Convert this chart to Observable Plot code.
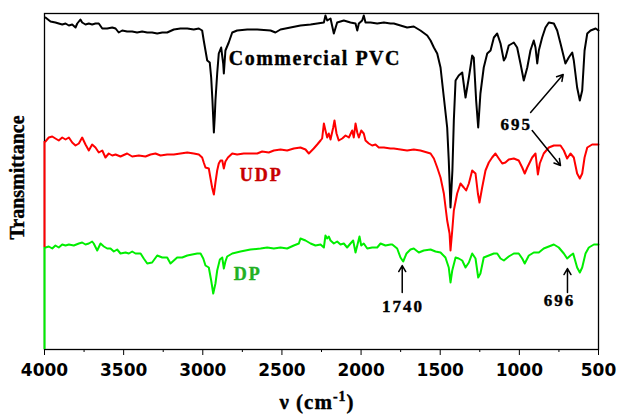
<!DOCTYPE html>
<html><head><meta charset="utf-8">
<script src="https://cdn.jsdelivr.net/npm/d3@7"></script>
<script src="https://cdn.jsdelivr.net/npm/@observablehq/plot@0.6"></script>
<style>
body{margin:0;background:#fff;}
#chart svg{display:block;}
</style></head><body><div id="chart"></div>
<script>
// x-axis ticks (wavenumber, cm^-1)
const xTicks = [4000, 3500, 3000, 2500, 2000, 1500, 1000, 500];
const xMinorTicks = [3750, 3250, 2750, 2250, 1750, 1250, 750];

// Commercial PVC spectrum: [wavenumber, transmittance (offset, a.u.)]
const pvc = [[3994,332],[3962,328],[3931,327],[3910,326],[3888,325],[3867,326],[3846,324],[3825,325],[3804,322],[3793,326],[3773,330],[3762,327],[3741,325],[3720,326],[3699,325],[3678,326],[3657,326],[3635,321],[3604,321],[3572,322],[3551,321],[3531,317],[3509,319],[3478,318],[3446,318],[3415,317],[3383,318],[3351,317],[3320,317],[3288,316],[3256,317],[3225,317],[3183,320],[3141,321],[3098,321],[3057,320],[3025,321],[3004,319],[2994,309],[2983,299],[2972,289],[2956,287],[2947,272],[2939,249],[2930,217],[2924,234],[2920,249],[2909,276],[2899,296],[2884,302],[2871,286],[2867,276],[2857,299],[2836,307],[2814,317],[2783,319],[2719,320],[2656,320],[2572,319],[2541,317],[2509,320],[2446,322],[2383,324],[2319,325],[2277,326],[2235,327],[2225,334],[2214,329],[2193,331],[2172,316],[2151,327],[2109,329],[2067,327],[2035,326],[2024,319],[2014,326],[1993,329],[1983,334],[1972,327],[1940,327],[1898,326],[1856,327],[1814,326],[1793,326],[1751,324],[1709,322],[1667,323],[1625,319],[1582,314],[1561,309],[1540,302],[1519,296],[1498,282],[1477,252],[1456,222],[1446,189],[1435,142],[1423,179],[1414,229],[1403,269],[1383,274],[1361,277],[1340,252],[1319,272],[1298,294],[1288,292],[1273,249],[1260,222],[1246,256],[1225,282],[1203,296],[1182,299],[1161,312],[1140,316],[1119,306],[1098,289],[1087,292],[1067,304],[1035,307],[1014,302],[993,286],[972,269],[950,282],[930,299],[909,309],[898,302],[887,286],[877,299],[856,312],[835,322],[814,327],[782,326],[761,319],[740,306],[709,286],[688,292],[666,297],[656,289],[635,262],[618,249],[603,259],[588,299],[571,316],[550,319],[518,321],[500,319]];

// UDP spectrum
const udp = [[3994,208],[3973,212],[3951,213],[3931,211],[3910,209],[3888,212],[3867,210],[3846,212],[3825,207],[3804,204],[3783,206],[3762,212],[3741,205],[3720,199],[3699,205],[3678,202],[3657,197],[3635,199],[3615,192],[3594,196],[3572,194],[3551,195],[3520,193],[3478,196],[3446,193],[3404,194],[3362,193],[3330,195],[3299,196],[3267,194],[3225,195],[3183,195],[3141,196],[3098,197],[3057,196],[3025,195],[3004,192],[2994,187],[2983,182],[2962,181],[2951,171],[2941,162],[2930,155],[2920,167],[2909,179],[2899,186],[2888,189],[2877,189],[2867,181],[2857,188],[2841,192],[2814,196],[2783,195],[2741,196],[2699,196],[2656,196],[2625,198],[2583,197],[2551,199],[2509,200],[2467,199],[2425,201],[2383,202],[2351,200],[2330,196],[2299,201],[2277,205],[2256,209],[2246,211],[2235,226],[2225,219],[2214,212],[2204,216],[2193,210],[2176,222],[2168,229],[2155,216],[2141,209],[2119,211],[2098,214],[2077,212],[2056,219],[2046,212],[2035,226],[2024,217],[2014,212],[1999,219],[1983,216],[1972,209],[1951,206],[1930,204],[1909,205],[1888,202],[1856,202],[1814,201],[1793,201],[1751,200],[1709,199],[1667,200],[1625,199],[1582,197],[1561,196],[1540,191],[1519,182],[1498,172],[1477,156],[1456,129],[1441,116],[1435,99],[1424,119],[1414,139],[1393,156],[1372,166],[1351,162],[1336,159],[1319,166],[1298,179],[1277,176],[1262,156],[1252,147],[1235,162],[1214,179],[1193,187],[1172,192],[1151,196],[1130,191],[1108,186],[1088,187],[1067,190],[1035,191],[1004,189],[982,182],[966,176],[950,182],[919,192],[898,196],[883,175],[871,186],[846,196],[814,202],[782,204],[740,204],[719,199],[698,191],[677,196],[656,192],[635,176],[618,171],[603,176],[588,192],[571,202],[540,205],[500,205]];

// DP spectrum
const dp = [[3994,102],[3973,103],[3951,101],[3931,104],[3910,102],[3888,105],[3867,104],[3846,105],[3815,104],[3783,106],[3762,107],[3741,105],[3720,106],[3699,108],[3689,106],[3667,99],[3646,106],[3625,103],[3604,101],[3583,101],[3562,98],[3541,100],[3520,96],[3488,97],[3467,96],[3446,98],[3425,96],[3393,96],[3373,91],[3351,86],[3320,87],[3288,94],[3256,92],[3225,92],[3204,86],[3183,89],[3162,92],[3130,92],[3098,94],[3067,95],[3035,96],[3014,96],[2997,91],[2983,84],[2962,82],[2947,69],[2934,56],[2920,66],[2909,79],[2892,90],[2877,92],[2867,81],[2857,88],[2846,93],[2814,96],[2762,98],[2699,100],[2635,101],[2593,102],[2551,101],[2509,102],[2467,101],[2425,104],[2393,106],[2383,111],[2351,109],[2319,106],[2288,104],[2256,105],[2235,102],[2225,114],[2214,111],[2204,113],[2193,109],[2172,106],[2151,108],[2130,105],[2109,106],[2088,102],[2067,106],[2050,109],[2035,97],[2024,104],[2010,113],[1999,104],[1983,106],[1961,101],[1930,102],[1898,102],[1877,106],[1846,104],[1814,105],[1803,105],[1772,101],[1751,92],[1734,88],[1713,96],[1688,100],[1667,101],[1635,97],[1604,99],[1561,100],[1530,98],[1498,97],[1467,92],[1446,82],[1435,67],[1424,79],[1403,92],[1383,91],[1361,89],[1340,82],[1319,87],[1298,96],[1277,91],[1260,72],[1246,76],[1225,92],[1193,94],[1161,96],[1140,96],[1119,91],[1098,89],[1067,93],[1035,96],[1004,96],[982,91],[966,86],[940,94],[909,97],[877,97],[846,101],[814,103],[782,105],[751,102],[719,96],[698,91],[677,94],[660,96],[635,82],[618,77],[603,82],[582,96],[561,102],[529,105],[500,105]];

// Curve labels
const seriesNames = ["Commercial PVC", "UDP", "DP"];
const seriesColors = ["#000000", "#ff0000", "#00ee00"];
const seriesTextColors = ["#000000", "#c80000", "#22b022"];
const labelWavenumbers = [2836, 2766, 2804];
const labelT = [290.7, 173.8, 74.8];

// Peak annotations
const peakTexts = ["695", "1740", "696"];
const peakTextV = [1119, 1867, 846];
const peakTextT = [224.8, 43.2, 48.5];
const arrowV1 = [929, 919, 1740, 696];
const arrowT1 = [237, 219, 57, 57];
const arrowV2 = [723, 740, 1740, 696];
const arrowT2 = [275, 184, 84, 81];

const rows = a => a.map(([v, t]) => ({v, t}));
const series = [pvc, udp, dp].map(rows);

const labelRows = seriesNames.map((text, i) => ({text, v: labelWavenumbers[i], t: labelT[i], color: seriesTextColors[i]}));
const peakRows = peakTexts.map((text, i) => ({text, v: peakTextV[i], t: peakTextT[i]}));
const arrowRows = arrowV1.map((v1, i) => ({v1, t1: arrowT1[i], v2: arrowV2[i], t2: arrowT2[i]}));
const edgeRows = [
  {v: 4000, t1: udp[0][1], t2: dp[0][1], c: seriesColors[1]},
  {v: 4000, t1: dp[0][1], t2: 0, c: seriesColors[2]}
];

const chart = Plot.plot({
  width: 619, height: 414,
  marginTop: 13, marginBottom: 65, marginLeft: 44, marginRight: 21,
  style: {background: "#fff", color: "#000"},
  x: {domain: [4000, 500]},
  y: {domain: [0, 336], axis: null},
  marks: [
    Plot.line(series[2], {x: "v", y: "t", stroke: seriesColors[2], strokeWidth: 2, strokeLinejoin: "round"}),
    Plot.line(series[1], {x: "v", y: "t", stroke: seriesColors[1], strokeWidth: 2, strokeLinejoin: "round"}),
    Plot.line(series[0], {x: "v", y: "t", stroke: seriesColors[0], strokeWidth: 2, strokeLinejoin: "round"}),
    Plot.frame({stroke: "#000", strokeWidth: 1.3}),
    Plot.ruleX(edgeRows, {x: "v", y1: "t1", y2: "t2", stroke: "c", strokeWidth: 2}),
    Plot.axisX(xTicks, {anchor: "bottom", tickSize: 6, tickPadding: 8, label: null, tickFormat: d => String(d), fontSize: 17, fontWeight: "bold", fontFamily: "DejaVu Sans"}),
    Plot.axisX(xMinorTicks, {anchor: "bottom", tickSize: 3, label: null, tickFormat: () => ""}),
    Plot.text(labelRows.slice(0, 1), {x: "v", y: "t", text: "text", fill: "color", stroke: "color", strokeWidth: 0.4, textAnchor: "start", lineAnchor: "middle", fontSize: 20, fontWeight: "bold", fontFamily: "Liberation Serif"}),
    Plot.text(labelRows.slice(1), {x: "v", y: "t", text: "text", fill: "color", stroke: "color", strokeWidth: 0.4, textAnchor: "start", lineAnchor: "middle", fontSize: 18, fontWeight: "bold", fontFamily: "Liberation Serif"}),
    Plot.text(peakRows, {x: "v", y: "t", text: "text", fill: "#000", stroke: "#000", strokeWidth: 0.4, textAnchor: "start", lineAnchor: "middle", fontSize: 17, fontWeight: "bold", fontFamily: "Liberation Serif"}),
    Plot.arrow(arrowRows, {x1: "v1", y1: "t1", x2: "v2", y2: "t2", stroke: "#000", strokeWidth: 1.5, headLength: 7})
  ]
});

const svg = d3.select(chart);
// letter spacing to match the wide bold lettering of the original
svg.selectAll("text").each(function() {
  const s = this.textContent;
  if (s === seriesNames[0]) this.setAttribute("letter-spacing", "1.5");
  else if (seriesNames.includes(s)) this.setAttribute("letter-spacing", "2");
  else if (peakTexts.includes(s)) this.setAttribute("letter-spacing", "2");
});

svg.append("text")
  .attr("transform", "translate(24,177.5) rotate(-90)")
  .attr("text-anchor", "middle")
  .attr("font-family", "Liberation Serif")
  .attr("font-weight", "bold")
  .attr("font-size", 20)
  .attr("fill", "#000")
  .attr("stroke", "#000")
  .attr("stroke-width", 0.4)
  .text("Transmittance");

const xl = svg.append("text")
  .attr("x", 317).attr("y", 409)
  .attr("text-anchor", "middle")
  .attr("font-family", "Liberation Serif")
  .attr("font-weight", "bold")
  .attr("font-size", 21)
  .attr("letter-spacing", 1)
  .attr("fill", "#000")
  .attr("stroke", "#000")
  .attr("stroke-width", 0.4);
xl.append("tspan").text("ν (cm");
xl.append("tspan").attr("font-size", 14).attr("dy", -8).text("-1");
xl.append("tspan").attr("dy", 8).text(")");

document.getElementById("chart").appendChild(chart);
</script></body></html>
